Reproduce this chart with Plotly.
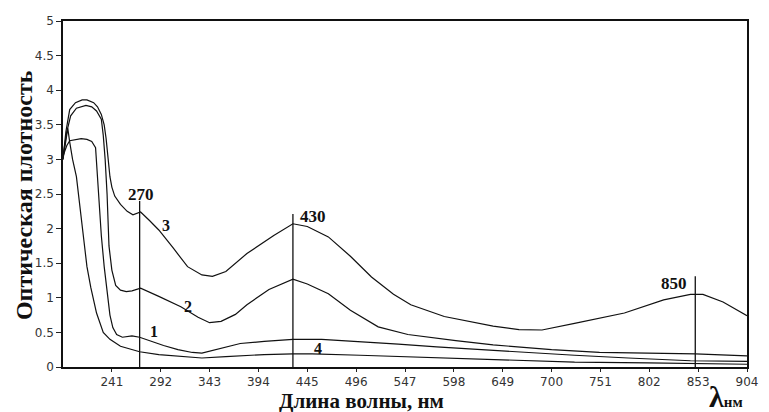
import plotly.graph_objects as go

# ---- data (wavelength nm, optical density) ----
c1_x = [190, 194, 197, 203, 209, 215, 220, 224, 226, 228, 230, 233, 236, 239, 242, 246, 252, 262, 270,
        280, 295, 310, 325, 335, 350, 375, 400, 430, 460, 500, 540, 580, 639, 680, 724, 780, 845, 904]
c1_y = [3.05, 3.2, 3.27, 3.29, 3.3, 3.29, 3.26, 3.17, 2.75, 2.4, 1.9, 1.45, 1.05, 0.75, 0.57, 0.47, 0.43, 0.45, 0.43,
        0.38, 0.31, 0.25, 0.21, 0.2, 0.25, 0.34, 0.37, 0.4, 0.4, 0.37, 0.33, 0.29, 0.24, 0.2, 0.17, 0.13, 0.09, 0.08]

c2_x = [190, 194, 198, 204, 214, 220, 225, 230, 232, 234, 236, 238, 241, 245, 250, 256, 262, 271,
        290, 313, 331, 343, 355, 370, 382, 405, 430, 445, 467, 490, 519, 550, 600, 639, 700, 750, 800, 850, 904]
c2_y = [3.05, 3.4, 3.63, 3.74, 3.78, 3.76, 3.7, 3.58, 3.35, 3.0, 2.5, 1.75, 1.4, 1.18, 1.11, 1.09, 1.1, 1.14,
        1.02, 0.87, 0.72, 0.64, 0.66, 0.76, 0.9, 1.12, 1.27, 1.2, 1.06, 0.82, 0.58, 0.47, 0.38, 0.32, 0.25, 0.21, 0.2, 0.19, 0.16]

c3_x = [190, 193, 197, 203, 210, 215, 222, 226, 230, 233, 235, 237, 239, 241, 244, 250, 257, 263, 271,
        280, 290, 305, 320, 335, 346, 360, 382, 410, 430, 445, 467, 490, 512, 535, 553, 588, 639, 666, 690,
        724, 776, 817, 845, 858, 879, 904]
c3_y = [3.0, 3.4, 3.72, 3.82, 3.86, 3.86, 3.82, 3.76, 3.65, 3.5, 3.3, 3.05, 2.75, 2.6, 2.47, 2.35, 2.25, 2.2, 2.24,
        2.12, 1.98, 1.72, 1.45, 1.33, 1.31, 1.38, 1.64, 1.9, 2.07, 2.03, 1.88, 1.6, 1.3, 1.05, 0.9, 0.73, 0.59, 0.54, 0.535,
        0.63, 0.78, 0.97, 1.05, 1.05, 0.94, 0.74]

c4_x = [190, 193, 195, 197, 200, 204, 208, 211, 215, 219, 225, 232, 239, 250, 265, 270, 290, 320, 335,
        360, 400, 430, 450, 500, 550, 600, 639, 700, 724, 800, 845, 904]
c4_y = [3.0, 3.3, 3.45, 3.25, 3.0, 2.75, 2.3, 1.9, 1.45, 1.15, 0.78, 0.5, 0.4, 0.3, 0.24, 0.22, 0.18, 0.14, 0.13,
        0.15, 0.18, 0.19, 0.19, 0.17, 0.15, 0.13, 0.11, 0.08, 0.07, 0.06, 0.05, 0.04]

peak_x = [270, 430, 850]
peak_top = [2.4, 2.21, 1.31]
peak_labels = ["270", "430", "850"]

curve_labels = ["1", "2", "3", "4"]
x_ticks = [241, 292, 343, 394, 445, 496, 547, 598, 649, 700, 751, 802, 853, 904]
y_ticks = [0, 0.5, 1, 1.5, 2, 2.5, 3, 3.5, 4, 4.5, 5]
y_tick_text = ["0", "0.5", "1", "1.5", "2", "2.5", "3", "3.5", "4", "4.5", "5"]

fig = go.Figure()
line = dict(color="#111", width=1.2)
for xs, ys in [(c1_x, c1_y), (c2_x, c2_y), (c3_x, c3_y), (c4_x, c4_y)]:
    fig.add_trace(go.Scatter(x=xs, y=ys, mode="lines", line=line, showlegend=False, hoverinfo="skip"))

for px, pt in zip(peak_x, peak_top):
    fig.add_trace(go.Scatter(x=[px, px], y=[0, pt], mode="lines", line=dict(color="#111", width=1.3),
                             showlegend=False, hoverinfo="skip"))

serif = "Liberation Serif"
peak_pos = [(271.7, 2.5), (451, 2.17), (827.7, 1.2)]
for (ax, ay), t in zip(peak_pos, peak_labels):
    fig.add_annotation(x=ax, y=ay, text="<b>%s</b>" % t, showarrow=False,
                       xanchor="center", yanchor="middle",
                       font=dict(family=serif, size=17, color="#111"))

curve_pos = [(285, 0.52), (320.5, 0.87), (297, 2.05), (456, 0.27)]
for (ax, ay), t in zip(curve_pos, curve_labels):
    fig.add_annotation(x=ax, y=ay, text="<b>%s</b>" % t, showarrow=False,
                       xanchor="center", yanchor="middle",
                       font=dict(family=serif, size=16, color="#111"))

fig.add_annotation(xref="paper", yref="paper", x=-0.057, y=0.497, textangle=-90,
                   xanchor="center", yanchor="middle",
                   text="<b>Оптическая плотность</b>", showarrow=False,
                   font=dict(family=serif, size=24, color="#111"))
fig.add_annotation(xref="paper", yref="paper", x=0.436, y=-0.099,
                   xanchor="center", yanchor="middle",
                   text="<b>Длина волны, нм</b>", showarrow=False,
                   font=dict(family=serif, size=21, color="#111"))
fig.add_annotation(xref="paper", yref="paper", x=0.969, y=-0.085,
                   xanchor="center", yanchor="middle",
                   text="<b><span style='font-size:30px'>λ</span><span style='font-size:15px'>нм</span></b>",
                   showarrow=False, font=dict(family=serif, size=18, color="#111"))

fig.update_xaxes(range=[190, 904], tickvals=x_ticks, ticktext=[str(v) for v in x_ticks],
                 ticks="outside", ticklen=3, tickcolor="#222", showline=True, linecolor="#111",
                 linewidth=1.5, mirror=True, showgrid=False, zeroline=False,
                 tickfont=dict(family="DejaVu Sans", size=12, color="#333"))
fig.update_yaxes(range=[0, 5], tickvals=y_ticks, ticktext=y_tick_text,
                 ticks="outside", ticklen=5, tickcolor="#222", showline=True, linecolor="#111",
                 linewidth=1.5, mirror=True, showgrid=False, zeroline=False,
                 tickfont=dict(family="DejaVu Sans", size=12, color="#333"))

fig.update_layout(width=769, height=412, margin=dict(l=63, r=11, t=21, b=45),
                  plot_bgcolor="white", paper_bgcolor="white")
fig.write_html("out.html")
